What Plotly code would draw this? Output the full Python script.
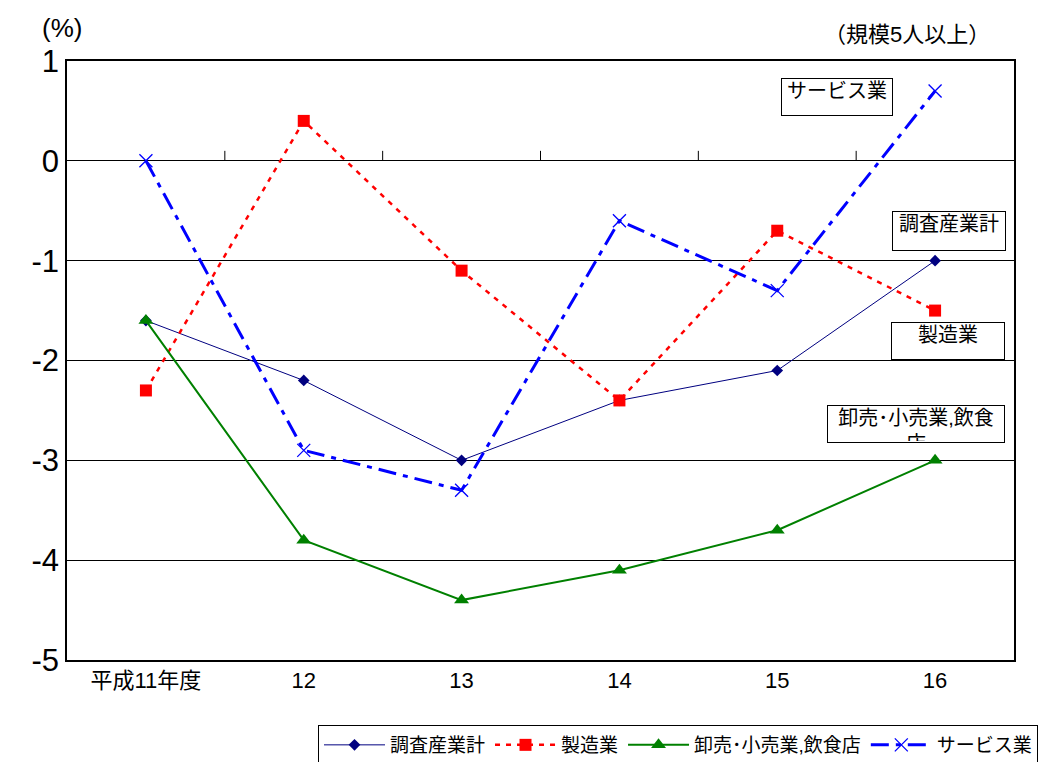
import plotly.graph_objects as go

categories = ["平成11年度", "12", "13", "14", "15", "16"]
total = [-1.6, -2.2, -3.0, -2.4, -2.1, -1.0]
manufacturing = [-2.3, 0.4, -1.1, -2.4, -0.7, -1.5]
retail = [-1.6, -3.8, -4.4, -4.1, -3.7, -3.0]
services = [0.0, -2.9, -3.3, -0.6, -1.3, 0.7]
y_ticks = [1, 0, -1, -2, -3, -4, -5]

FONT = "Liberation Sans, Noto Sans CJK JP"
xs = list(range(len(categories)))

fig = go.Figure()
fig.add_trace(go.Scatter(x=xs, y=total, name="調査産業計", mode="lines+markers",
                         line=dict(color="#000080", width=1),
                         marker=dict(symbol="diamond", size=9, color="#000080")))
fig.add_trace(go.Scatter(x=xs, y=manufacturing, name="製造業", mode="lines+markers",
                         line=dict(color="#FF0000", width=2.5, dash="5px,6px"),
                         marker=dict(symbol="square", size=12, color="#FF0000")))
fig.add_trace(go.Scatter(x=xs, y=retail, name="卸売･小売業,飲食店", mode="lines+markers",
                         line=dict(color="#008000", width=2),
                         marker=dict(symbol="triangle-up", size=13, color="#008000")))
fig.add_trace(go.Scatter(x=xs, y=services, name="サービス業", mode="lines+markers",
                         line=dict(color="#0000FF", width=3, dash="18px,7px,5px,7px"),
                         marker=dict(symbol="x-thin", size=13, color="#0000FF",
                                     line=dict(color="#0000FF", width=1.3))))

shapes = []
for i in range(len(categories) - 1):
    shapes.append(dict(type="line", xref="x", yref="y", x0=i + 0.5, x1=i + 0.5,
                       y0=0, y1=0.1, line=dict(color="black", width=1)))
fig.update_layout(shapes=shapes)

fig.update_xaxes(range=[-0.5, len(categories) - 0.5], tickmode="array", tickvals=xs,
                 ticktext=categories, showgrid=False, zeroline=False,
                 showline=True, mirror=True, linecolor="black", linewidth=1.5,
                 ticks="", tickfont=dict(size=22, color="black", family=FONT))
fig.update_yaxes(range=[-5, 1], tickmode="array", tickvals=y_ticks,
                 ticktext=[str(v) for v in y_ticks], showgrid=True, gridcolor="black",
                 gridwidth=1, zeroline=True, zerolinecolor="black", zerolinewidth=1,
                 showline=True, mirror=True, linecolor="black", linewidth=1.5,
                 ticks="", ticklen=0, tickfont=dict(size=31, color="black", family=FONT))

ann = [
    dict(text="(%)", xref="paper", yref="paper", x=(62 - 67) / 947, y=(660 - 28) / 599,
         xanchor="center", yanchor="middle", showarrow=False,
         font=dict(size=26, family=FONT)),
    dict(text="（規模5人以上）", xref="paper", yref="paper", x=(992 - 67) / 947,
         y=(660 - 35) / 599, xanchor="right", yanchor="middle", showarrow=False,
         font=dict(size=22, family=FONT)),
]
labels = [("サービス業", 837, 97, 108, 34), ("調査産業計", 949, 231, 110, 36),
          ("製造業", 948, 341, 110, 34), ("卸売･小売業,飲食<br>店", 916, 424, 174, 34)]
for t, px, py, w, h in labels:
    ann.append(dict(text=t, xref="paper", yref="paper",
                    x=(px - 67) / 947, y=(660 - py) / 599, xanchor="center", yanchor="middle",
                    showarrow=False, font=dict(size=20, family=FONT, color="black"),
                    bordercolor="black", borderwidth=1, bgcolor="white",
                    width=w, height=h, valign="top"))

fig.update_layout(
    width=1042, height=754,
    margin=dict(l=59, r=36, t=53, b=102, autoexpand=False),
    paper_bgcolor="white", plot_bgcolor="white",
    font=dict(family=FONT, color="black"),
    annotations=ann,
    legend=dict(orientation="h", x=(318 - 67) / 947, y=(660 - 725) / 599,
                xanchor="left", yanchor="top",
                bordercolor="black", borderwidth=1, bgcolor="white",
                font=dict(size=19, family=FONT), itemwidth=61, tracegroupgap=0),
    showlegend=True,
)

fig.write_html("out.html")
